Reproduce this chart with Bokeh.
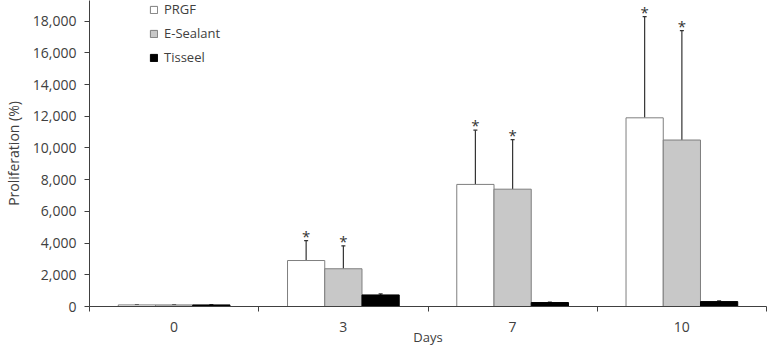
from bokeh.plotting import figure
from bokeh.models import (ColumnDataSource, Range1d, FixedTicker, NumeralTickFormatter,
                          Whisker, Legend, LegendItem, TeeHead)
from bokeh.core.properties import value
from bokeh.embed import file_html
from bokeh.resources import INLINE

days = ["0", "3", "7", "10"]
series = ["PRGF", "E-Sealant", "Tisseel"]
prgf = [100, 2900, 7700, 11900]
prgf_err = [20, 1250, 3420, 6380]
esealant = [100, 2380, 7400, 10500]
esealant_err = [20, 1450, 3130, 6900]
tisseel = [100, 730, 250, 310]
tisseel_err = [20, 60, 30, 40]
significant_prgf = [False, True, True, True]
significant_esealant = [False, True, True, True]
y_ticks = [0, 2000, 4000, 6000, 8000, 10000, 12000, 14000, 16000, 18000]

fills = ["#ffffff", "#c8c8c8", "#000000"]
lines = ["#7f7f7f", "#7f7f7f", "#000000"]
offsets = [-0.22, 0.0, 0.22]
vals = [prgf, esealant, tisseel]
errs = [prgf_err, esealant_err, tisseel_err]
sigs = [significant_prgf, significant_esealant, [False] * 4]

FONT = "Open Sans"
TXT = "#404040"

p = figure(width=767, height=348, output_backend="svg", toolbar_location=None,
           x_range=Range1d(0, 4), y_range=Range1d(0, 19300),
           min_border_left=86, min_border_right=1, min_border_top=0, min_border_bottom=40)
p.outline_line_color = None
p.xgrid.visible = False
p.ygrid.visible = False
p.background_fill_color = "white"

items = []
for i in range(3):
    xs = [k + 0.5 + offsets[i] for k in range(len(days))]
    src = ColumnDataSource(dict(x=xs, top=vals[i],
                                upper=[v + e for v, e in zip(vals[i], errs[i])]))
    r = p.vbar(x="x", top="top", width=0.22, bottom=0, source=src,
               fill_color=fills[i], line_color=lines[i], line_width=1)
    items.append(LegendItem(label=series[i], renderers=[r]))
    w = Whisker(base="x", lower="top", upper="upper", source=src, dimension="height",
                line_color="#333333", line_width=1.2,
                upper_head=TeeHead(size=4, line_color="#333333", line_width=1.2),
                lower_head=None)
    p.add_layout(w)
    sx = [x for x, s in zip(xs, sigs[i]) if s]
    sy = [v + e for v, e, s in zip(vals[i], errs[i], sigs[i]) if s]
    if sx:
        p.text(x=sx, y=sy, text=["*"] * len(sx), text_align="center",
               text_baseline="alphabetic", text_font=value(FONT), text_font_size="15px",
               text_color="#333333", y_offset=-5)

leg = Legend(items=items, location=(60, 240), orientation="vertical",
             glyph_width=9, glyph_height=9, label_height=12, spacing=6,
             padding=0, margin=0, border_line_alpha=0, background_fill_alpha=0,
             label_text_font=FONT, label_text_font_size="13px", label_text_color=TXT,
             label_standoff=6)
p.add_layout(leg)

# y axis
p.yaxis.ticker = FixedTicker(ticks=y_ticks)
p.yaxis.formatter = NumeralTickFormatter(format="0,0")
p.yaxis.axis_label = "Proliferation (%)"
p.yaxis.axis_label_text_font = FONT
p.yaxis.axis_label_text_font_style = "normal"
p.yaxis.axis_label_text_font_size = "14px"
p.yaxis.axis_label_text_color = TXT
p.yaxis.major_label_text_font = FONT
p.yaxis.major_label_text_font_size = "14px"
p.yaxis.major_label_text_color = TXT
p.yaxis.major_label_standoff = 8
p.yaxis.major_tick_out = 5
p.yaxis.major_tick_in = 0
p.yaxis.minor_tick_out = 0
p.yaxis.minor_tick_in = 0
p.yaxis.axis_line_color = "#404040"
p.yaxis.major_tick_line_color = "#404040"
p.yaxis.axis_label_standoff = 7

# x axis: labels at category centres, ticks at boundaries
centers = [k + 0.5 for k in range(len(days))]
p.xaxis.ticker = FixedTicker(ticks=centers, minor_ticks=list(range(len(days) + 1)))
p.xaxis.major_label_overrides = {c: d for c, d in zip(centers, days)}
p.xaxis.major_tick_line_color = None
p.xaxis.major_tick_out = 0
p.xaxis.major_tick_in = 0
p.xaxis.minor_tick_out = 5
p.xaxis.minor_tick_in = 0
p.xaxis.minor_tick_line_color = "#404040"
p.xaxis.axis_line_color = "#404040"
p.xaxis.major_label_text_font = FONT
p.xaxis.major_label_text_font_size = "14px"
p.xaxis.major_label_text_color = TXT
p.xaxis.major_label_standoff = 10
p.xaxis.axis_label = "Days"
p.xaxis.axis_label_text_font = FONT
p.xaxis.axis_label_text_font_style = "normal"
p.xaxis.axis_label_text_font_size = "13px"
p.xaxis.axis_label_text_color = TXT
p.xaxis.axis_label_standoff = -7

open("out.html", "w").write(file_html(p, INLINE))
